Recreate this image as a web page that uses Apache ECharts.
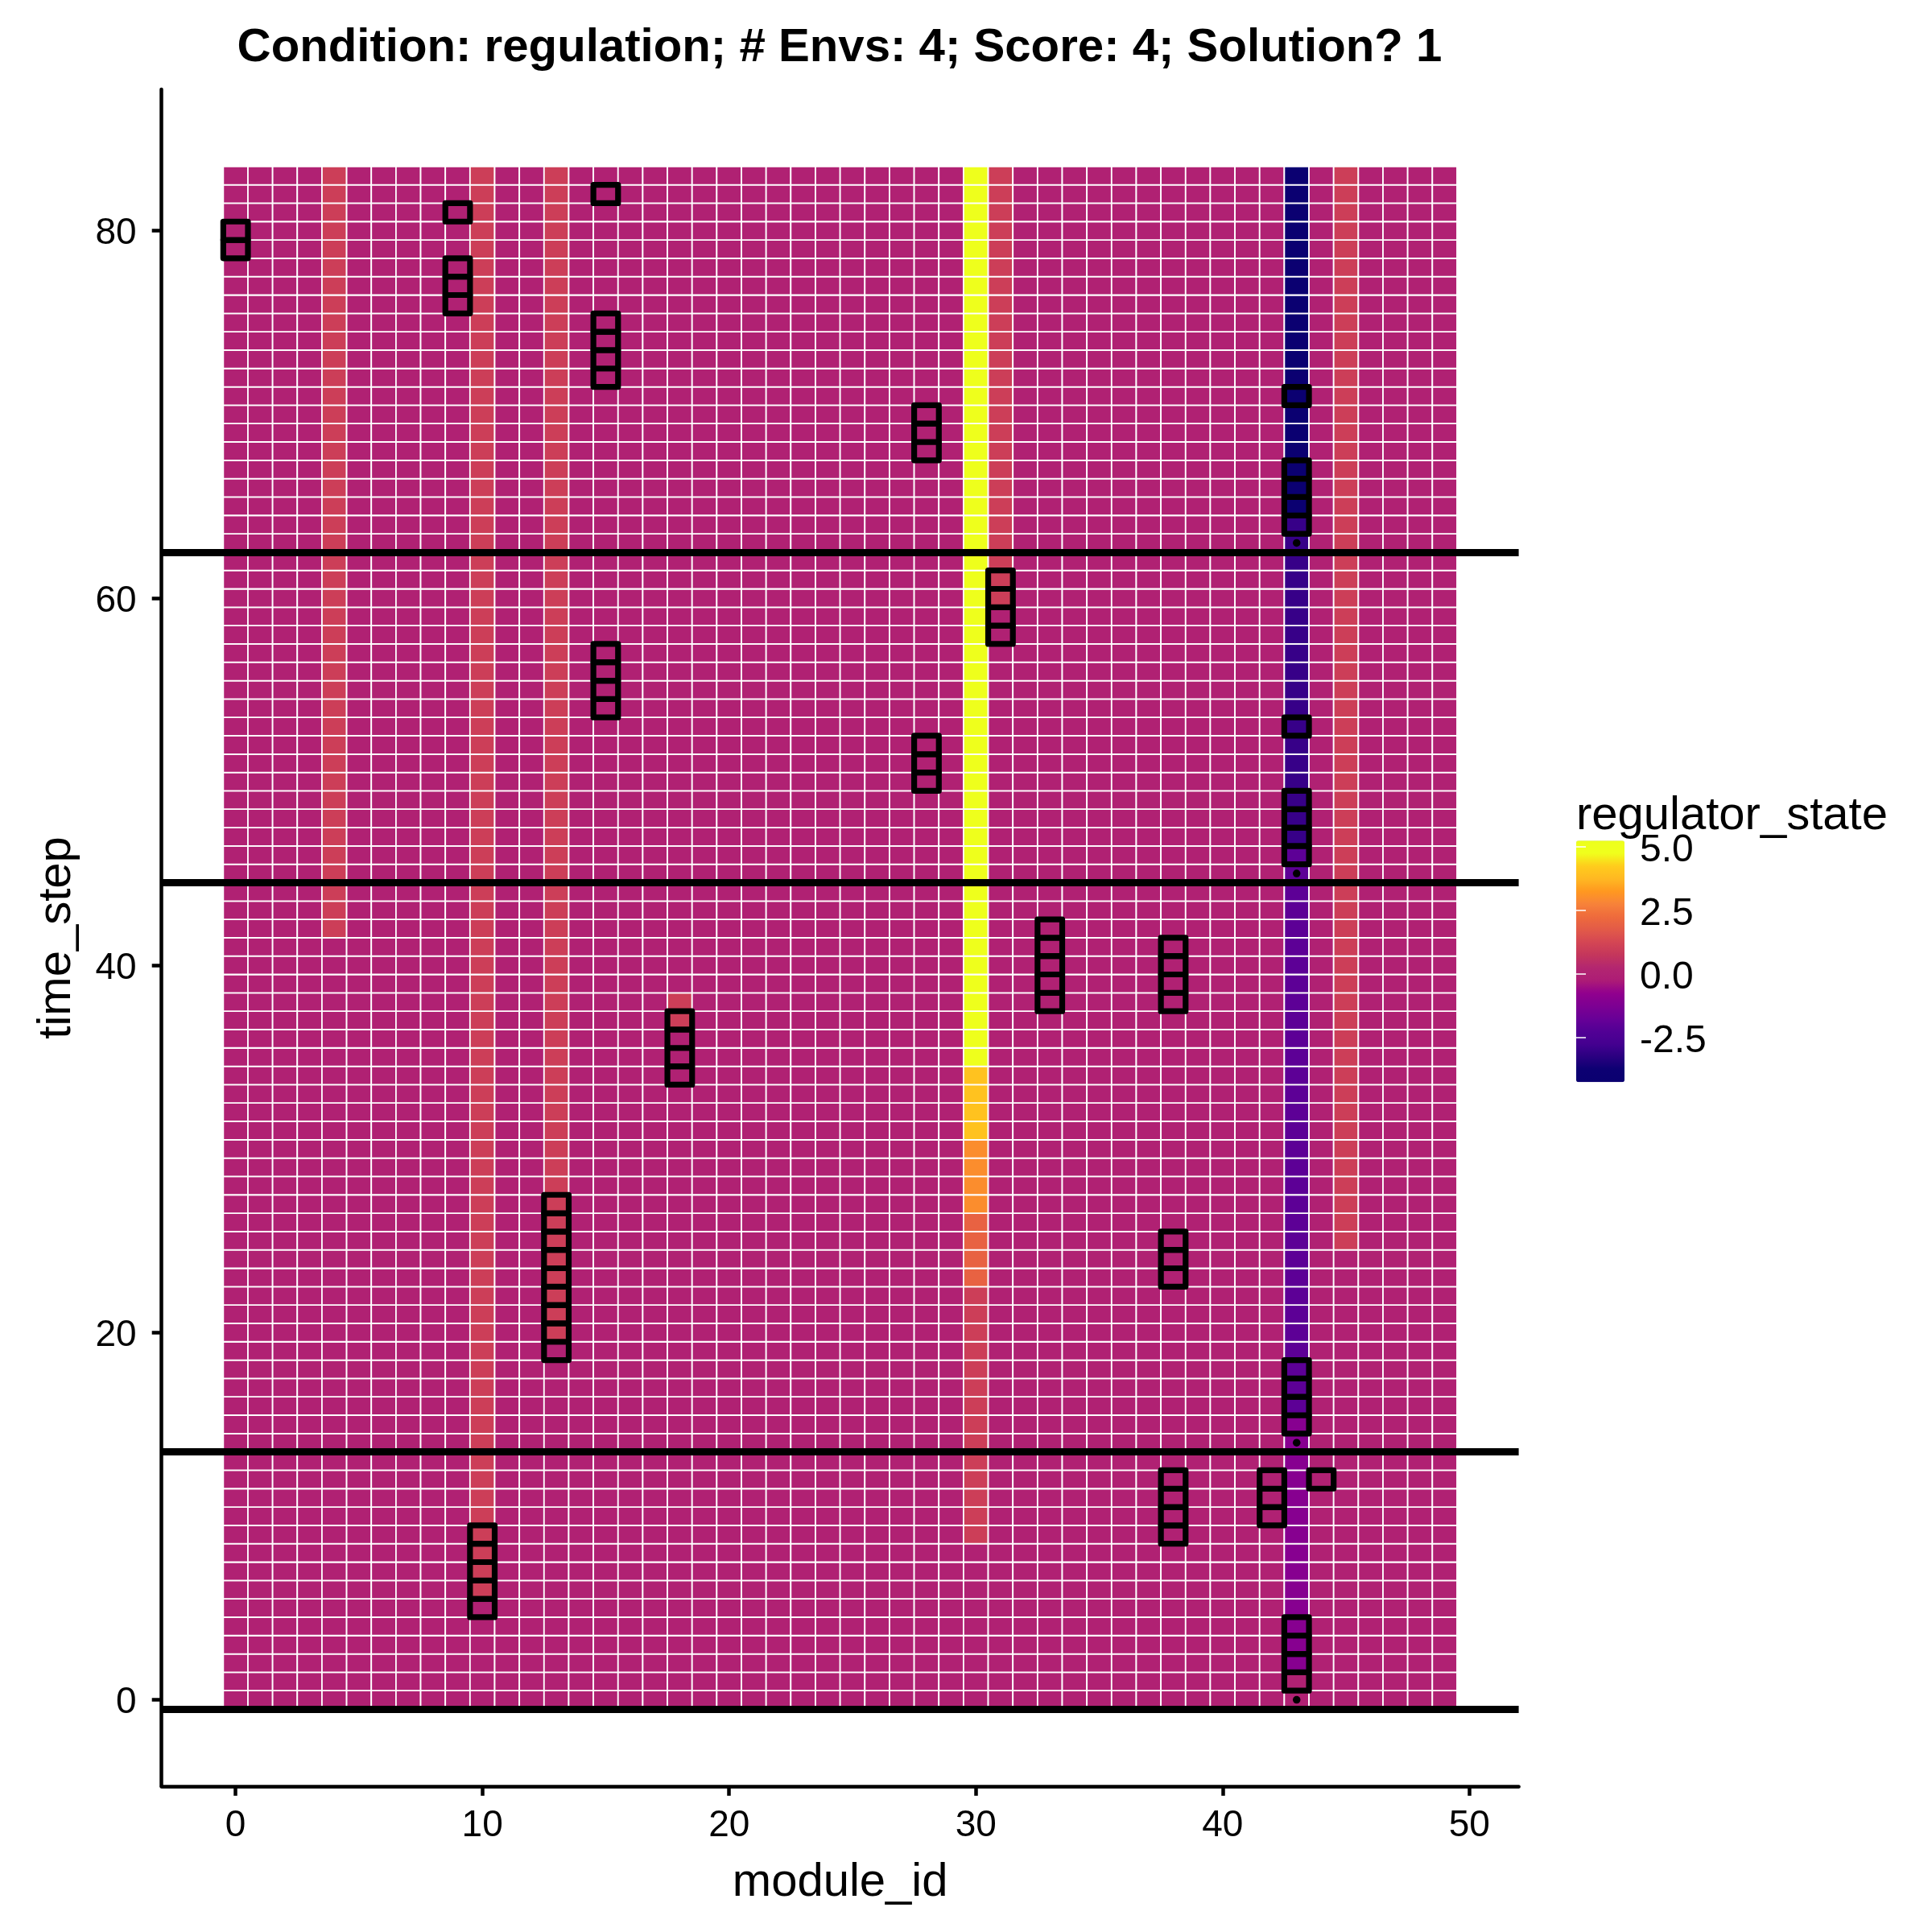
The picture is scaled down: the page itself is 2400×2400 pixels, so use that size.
<!DOCTYPE html>
<html>
<head>
<meta charset="utf-8">
<style>html,body{margin:0;padding:0;background:#fff}#chart{width:2400px;height:2400px}</style>
<script src="https://cdn.jsdelivr.net/npm/echarts@6/dist/echarts.min.js"></script>
</head>
<body>
<div id="chart"></div>
<script>
// ---- data ----
const titleText = 'Condition: regulation; # Envs: 4; Score: 4; Solution? 1';
const moduleCount = 50;
const timeStepCount = 84;
const baseState = 0;
const xTickLabels = [0, 10, 20, 30, 40, 50];
const yTickLabels = [0, 20, 40, 60, 80];
const legendTicks = [-2.5, 0, 2.5, 5];
const envBoundaries = [-0.5, 13.5, 44.5, 62.5];
const changePointsColumn43 = [0, 14, 45, 63];

// [module_id, first time_step, last time_step, regulator_state]
const raisedRuns4 = [[4, 42, 83, 1]];
const raisedRuns10 = [[10, 6, 83, 1]];
const raisedRuns13 = [[13, 20, 83, 1]];
const raisedRuns18 = [[18, 37, 38, 1]];
const raisedRuns30 = [[30, 9, 22, 1], [30, 23, 26, 2], [30, 27, 30, 3], [30, 31, 34, 4], [30, 35, 83, 5]];
const raisedRuns31 = [[31, 60, 83, 1]];
const raisedRuns43 = [[43, 2, 15, -1], [43, 16, 46, -2], [43, 47, 64, -3], [43, 65, 83, -4]];
const raisedRuns45 = [[45, 25, 83, 1]];

// [module_id, first time_step, last time_step] of the outlined cells
const activeRuns = [
  [0, 79, 80], [9, 81, 81], [9, 76, 78], [10, 5, 9], [13, 19, 27],
  [15, 82, 82], [15, 72, 75], [15, 54, 57], [18, 34, 37], [28, 68, 70], [28, 50, 52],
  [31, 58, 61], [33, 38, 42], [38, 38, 41], [38, 23, 25], [38, 9, 12],
  [42, 10, 12], [44, 12, 12],
  [43, 71, 71], [43, 64, 67], [43, 53, 53], [43, 46, 49], [43, 15, 18], [43, 1, 4]
];

// colour stops, every 0.5 from -4.25 to 5.25
const colourStops = ['#0A0070','#0C0072','#2A0080','#440090','#520095','#680097','#7D0092','#91008E',
  '#AD1C76','#B32670','#C4365C','#D44654','#E25A48','#EE6A3C','#F7823A','#FF9820','#FFB822','#FFCC1C','#F0FF1C','#ECFF1C'];
const legendMin = -4.25, legendMax = 5.25;

// ---- build tables ----
const stateOf = {};
[raisedRuns4, raisedRuns10, raisedRuns13, raisedRuns18, raisedRuns30, raisedRuns31, raisedRuns43, raisedRuns45]
  .flat().forEach(([m, a, b, v]) => { for (let t = a; t <= b; t++) stateOf[m + '_' + t] = v; });
const state = (m, t) => (stateOf[m + '_' + t] !== undefined ? stateOf[m + '_' + t] : baseState);
const allCells = [];
for (let m = 0; m < moduleCount; m++) for (let t = 0; t < timeStepCount; t++) allCells.push([m, t, state(m, t)]);
const activeCells = [];
activeRuns.forEach(([m, a, b]) => { for (let t = a; t <= b; t++) activeCells.push([m, t, state(m, t)]); });

const FONT = '"Liberation Sans", Arial, sans-serif';
const tickSize = 46, legendTickSize = 48, nameSize = 58;

function tile(stroke, lineWidth) {
  return function (params, api) {
    const x = api.value(0), y = api.value(1);
    const p0 = api.coord([x - 0.5, y + 0.5]);
    const p1 = api.coord([x + 0.5, y - 0.5]);
    return {
      type: 'rect',
      shape: { x: p0[0], y: p0[1], width: p1[0] - p0[0], height: p1[1] - p0[1] },
      style: { fill: api.visual('color'), stroke: stroke, lineWidth: lineWidth, lineJoin: 'round' },
      silent: true
    };
  };
}

const chart = echarts.init(document.getElementById('chart'), null, { renderer: 'canvas', width: 2400, height: 2400 });
chart.setOption({
  animation: false,
  backgroundColor: '#fff',
  textStyle: { fontFamily: FONT },
  title: [
    { text: titleText, left: 1043, top: 31, textAlign: 'center', padding: 0,
      textStyle: { fontFamily: FONT, fontSize: 58.2, fontWeight: 'bold', color: '#000' } },
    { text: 'regulator_state', left: 1958, top: 985, padding: 0,
      textStyle: { fontFamily: FONT, fontSize: nameSize, fontWeight: 'normal', color: '#000' } }
  ],
  grid: [
    { left: 200.7, right: 513.4, top: 111, bottom: 181.2, containLabel: false },
    { left: 1958, top: 1044.3, width: 60, height: 300, containLabel: false }
  ],
  xAxis: [
    { type: 'value', gridIndex: 0, min: -3, max: 52, name: 'module_id', nameLocation: 'middle', nameGap: 91,
      nameTextStyle: { fontFamily: FONT, fontSize: nameSize, color: '#000' },
      axisLine: { onZero: false, lineStyle: { color: '#000', width: 4.5 } },
      axisTick: { length: 12, lineStyle: { color: '#000', width: 4.5 }, customValues: xTickLabels },
      axisLabel: { fontFamily: FONT, fontSize: tickSize, color: '#000', margin: 27, customValues: xTickLabels },
      splitLine: { show: false } },
    { type: 'value', gridIndex: 1, min: 0, max: 1, show: false }
  ],
  yAxis: [
    { type: 'value', gridIndex: 0, min: -4.7, max: 87.7, name: 'time_step', nameLocation: 'middle', nameGap: 101,
      nameTextStyle: { fontFamily: FONT, fontSize: nameSize, color: '#000' },
      axisLine: { onZero: false, lineStyle: { color: '#000', width: 4.5 } },
      axisTick: { length: 12, lineStyle: { color: '#000', width: 4.5 }, customValues: yTickLabels },
      axisLabel: { fontFamily: FONT, fontSize: tickSize, color: '#000', margin: 31, verticalAlign: 'top', lineHeight: 8, customValues: yTickLabels },
      splitLine: { show: false } },
    { type: 'value', gridIndex: 1, min: legendMin, max: legendMax, position: 'right', z: 10,
      axisLine: { show: false },
      axisTick: { inside: true, length: 12, lineStyle: { color: '#fff', width: 1.5 }, customValues: legendTicks },
      axisLabel: { fontFamily: FONT, fontSize: legendTickSize, color: '#000', margin: 19, verticalAlign: 'top', lineHeight: 10, customValues: legendTicks,
        formatter: v => v.toFixed(1) },
      splitLine: { show: false } },
    { type: 'value', gridIndex: 1, min: legendMin, max: legendMax, position: 'left', z: 10,
      axisLine: { show: false },
      axisTick: { inside: true, length: 12, lineStyle: { color: '#fff', width: 1.5 }, customValues: legendTicks },
      axisLabel: { show: false },
      splitLine: { show: false } }
  ],
  visualMap: {
    type: 'continuous', show: true, seriesIndex: [0, 1], dimension: 2,
    min: legendMin, max: legendMax, calculable: false, realtime: false,
    left: 1958, top: 1044.3, itemWidth: 60, itemHeight: 300, padding: 0, text: null,
    inRange: { color: colourStops }
  },
  series: [
    { type: 'custom', name: 'regulator_state', coordinateSystem: 'cartesian2d', xAxisIndex: 0, yAxisIndex: 0,
      data: allCells, encode: { x: 0, y: 1 }, renderItem: tile('#fff', 1.8), progressive: 0, animation: false, silent: true },
    { type: 'custom', name: 'active', coordinateSystem: 'cartesian2d', xAxisIndex: 0, yAxisIndex: 0,
      data: activeCells, encode: { x: 0, y: 1 }, renderItem: tile('#000', 7.2), progressive: 0, animation: false, silent: true, z: 3 },
    { type: 'scatter', name: 'change', xAxisIndex: 0, yAxisIndex: 0, symbolSize: 9.5, silent: true, z: 4,
      itemStyle: { color: '#000', opacity: 1 },
      data: changePointsColumn43.map(t => [43, t]),
      markLine: { silent: true, symbol: 'none', animation: false, label: { show: false }, z: 5,
        lineStyle: { color: '#000', width: 9, type: 'solid', opacity: 1 },
        data: envBoundaries.map(y => ({ yAxis: y })) } }
  ]
});
</script>
</body>
</html>
